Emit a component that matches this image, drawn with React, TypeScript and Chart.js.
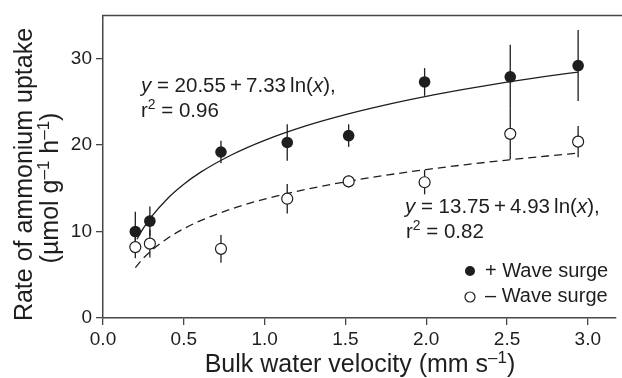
import React, { useEffect, useRef } from 'react';
import { Chart, registerables } from 'chart.js';

Chart.register(...registerables);

// ---- data ----
const velocity = [0.2, 0.29, 0.73, 1.14, 1.52, 1.99, 2.52, 2.94];
const uptakeWithSurge = [10.0, 11.2, 19.2, 20.3, 21.1, 27.3, 27.9, 29.2];
const errWithSurge = [2.3, 1.7, 1.3, 2.1, 1.3, 1.6, 3.7, 4.1];
const uptakeWithoutSurge = [8.2, 8.6, 8.0, 13.8, 15.8, 15.7, 21.3, 20.4];
const errWithoutSurge = [1.3, 1.6, 1.6, 1.7, 0.7, 1.4, 2.9, 1.8];

// fitted curves as drawn in the reference
const fitWithX = [0.21, 0.25, 0.3, 0.4, 0.5, 0.6, 0.8, 1.0, 1.25, 1.5, 1.75, 2.0, 2.25, 2.5, 2.75, 2.94];
const fitWithY = [9.11, 10.39, 11.72, 13.83, 15.47, 16.81, 18.91, 20.55, 22.19, 23.52, 24.65, 25.63, 26.49, 27.27, 27.97, 28.45];
const fitWithoutX = [0.2, 0.25, 0.3, 0.4, 0.5, 0.6, 0.8, 1.0, 1.25, 1.5, 1.75, 2.0, 2.25, 2.5, 2.75, 2.94];
const fitWithoutY = [5.82, 6.92, 7.81, 9.23, 10.33, 11.23, 12.65, 13.75, 14.85, 15.75, 16.51, 17.17, 17.75, 18.27, 18.74, 19.07];

const xTicks = [0, 0.5, 1.0, 1.5, 2.0, 2.5, 3.0];
const yTicks = [0, 10, 20, 30];

const legendLabels = ['+ Wave surge', '\u2013 Wave surge'];
const eqWithSurge = ['y', ' = 20.55\u2009+\u20097.33\u2009ln(', 'x', '),'];
const r2WithSurge = ['r', '2', ' = 0.96'];
const eqWithoutSurge = ['y', ' = 13.75\u2009+\u20094.93\u2009ln(', 'x', '),'];
const r2WithoutSurge = ['r', '2', ' = 0.82'];
const xTitle = ['Bulk water velocity (mm s', '\u20131', ')'];
const yTitle1 = 'Rate of ammonium uptake';
const yTitle2 = ['(\u00b5mol g', '\u20131', ' h', '\u20131', ')'];

const INK = '#1e1e1e';
const AXIS = '#474747';
const FONT = "'Liberation Sans', Arial, Helvetica, sans-serif";

type Run = { t: string; it?: boolean; sup?: boolean };

function runsWidth(ctx: CanvasRenderingContext2D, runs: Run[], size: number) {
  let w = 0;
  for (const r of runs) {
    const s = r.sup ? size * 0.68 : size;
    ctx.font = `${r.it ? 'italic ' : ''}${s}px ${FONT}`;
    w += ctx.measureText(r.t).width;
  }
  return w;
}

function drawRuns(ctx: CanvasRenderingContext2D, runs: Run[], x: number, y: number, size: number) {
  let cx = x;
  ctx.textAlign = 'left';
  ctx.textBaseline = 'alphabetic';
  for (const r of runs) {
    const s = r.sup ? size * 0.68 : size;
    ctx.font = `${r.it ? 'italic ' : ''}${s}px ${FONT}`;
    ctx.fillText(r.t, cx, r.sup ? y - size * 0.38 : y);
    cx += ctx.measureText(r.t).width;
  }
}

const eqRuns = (a: string[]): Run[] => [
  { t: a[0], it: true },
  { t: a[1] },
  { t: a[2], it: true },
  { t: a[3] },
];
const r2Runs = (a: string[]): Run[] => [{ t: a[0] }, { t: a[1], sup: true }, { t: a[2] }];

const decor = {
  id: 'decor',
  beforeDatasetsDraw(chart: any) {
    const { ctx, scales } = chart;
    const x = scales.x;
    const y = scales.y;
    ctx.save();
    ctx.strokeStyle = INK;
    ctx.lineWidth = 1.3;
    const bars = (vals: number[], errs: number[]) => {
      velocity.forEach((v, i) => {
        const px = x.getPixelForValue(v);
        ctx.beginPath();
        ctx.moveTo(px, y.getPixelForValue(vals[i] - errs[i]));
        ctx.lineTo(px, y.getPixelForValue(vals[i] + errs[i]));
        ctx.stroke();
      });
    };
    bars(uptakeWithSurge, errWithSurge);
    bars(uptakeWithoutSurge, errWithoutSurge);
    ctx.restore();
  },
  afterDraw(chart: any) {
    const { ctx, chartArea } = chart;
    ctx.save();
    // top frame line
    ctx.strokeStyle = AXIS;
    ctx.lineWidth = 1.5;
    ctx.beginPath();
    ctx.moveTo(chartArea.left - 0.75, chartArea.top);
    ctx.lineTo(chart.width, chartArea.top);
    ctx.stroke();

    ctx.fillStyle = INK;
    // equations
    drawRuns(ctx, eqRuns(eqWithSurge), 141, 92, 20.5);
    drawRuns(ctx, r2Runs(r2WithSurge), 141, 117, 20.5);
    drawRuns(ctx, eqRuns(eqWithoutSurge), 405, 213, 20.5);
    drawRuns(ctx, r2Runs(r2WithoutSurge), 406, 238, 20.5);

    // legend
    ctx.lineWidth = 1.2;
    ctx.beginPath();
    ctx.arc(470, 271, 5, 0, Math.PI * 2);
    ctx.fillStyle = INK;
    ctx.fill();
    ctx.beginPath();
    ctx.arc(470, 297, 5, 0, Math.PI * 2);
    ctx.fillStyle = '#fff';
    ctx.fill();
    ctx.strokeStyle = INK;
    ctx.stroke();
    ctx.fillStyle = INK;
    drawRuns(ctx, [{ t: legendLabels[0] }], 485, 277, 20);
    drawRuns(ctx, [{ t: legendLabels[1] }], 485, 302, 20);

    // x title
    const xr: Run[] = [{ t: xTitle[0] }, { t: xTitle[1], sup: true }, { t: xTitle[2] }];
    const xw = runsWidth(ctx, xr, 25);
    drawRuns(ctx, xr, 360 - xw / 2, 372, 25);

    // y title
    const y1: Run[] = [{ t: yTitle1 }];
    const y2: Run[] = [
      { t: yTitle2[0] },
      { t: yTitle2[1], sup: true },
      { t: yTitle2[2] },
      { t: yTitle2[3], sup: true },
      { t: yTitle2[4] },
    ];
    ctx.save();
    ctx.translate(32, 174.5);
    ctx.rotate(-Math.PI / 2);
    const w1 = runsWidth(ctx, y1, 25);
    drawRuns(ctx, y1, -w1 / 2, 0, 25);
    ctx.restore();
    ctx.save();
    ctx.translate(58, 188);
    ctx.rotate(-Math.PI / 2);
    const w2 = runsWidth(ctx, y2, 25);
    drawRuns(ctx, y2, -w2 / 2, 0, 25);
    ctx.restore();

    ctx.restore();
  },
};

export default function App() {
  const ref = useRef<HTMLCanvasElement | null>(null);
  useEffect(() => {
    if (!ref.current) return;
    const chart = new Chart(ref.current, {
      type: 'scatter',
      data: {
        datasets: [
          {
            label: legendLabels[1],
            data: velocity.map((v, i) => ({ x: v, y: uptakeWithoutSurge[i] })),
            pointRadius: 5.5,
            pointBackgroundColor: '#ffffff',
            pointBorderColor: INK,
            pointBorderWidth: 1.2,
          },
          {
            label: legendLabels[0],
            data: velocity.map((v, i) => ({ x: v, y: uptakeWithSurge[i] })),
            pointRadius: 5.8,
            pointBackgroundColor: INK,
            pointBorderColor: INK,
            pointBorderWidth: 0,
          },
          {
            type: 'line',
            label: 'fit +',
            data: fitWithX.map((v, i) => ({ x: v, y: fitWithY[i] })),
            borderColor: INK,
            borderWidth: 1.3,
            pointRadius: 0,
            cubicInterpolationMode: 'monotone',
            fill: false,
          },
          {
            type: 'line',
            label: 'fit -',
            data: fitWithoutX.map((v, i) => ({ x: v, y: fitWithoutY[i] })),
            borderColor: INK,
            borderWidth: 1.3,
            borderDash: [8, 5],
            pointRadius: 0,
            cubicInterpolationMode: 'monotone',
            fill: false,
          },
        ] as any,
      },
      options: {
        animation: false,
        responsive: false,
        devicePixelRatio: 1,
        layout: { padding: { top: 12, right: 0, bottom: 0, left: 0 } },
        plugins: { legend: { display: false }, tooltip: { enabled: false } },
        scales: {
          x: {
            type: 'linear',
            min: 0,
            max: 3.17,
            afterBuildTicks: (s: any) => {
              s.ticks = xTicks.map((v) => ({ value: v }));
            },
            afterFit: (s: any) => {
              s.height = 60;
            },
            ticks: {
              callback: (v: any) => Number(v).toFixed(1),
              font: { family: FONT, size: 19 },
              color: INK,
              padding: 3,
              maxRotation: 0,
            },
            grid: { drawOnChartArea: false, drawTicks: true, tickLength: 7, color: AXIS, lineWidth: 1.3 },
            border: { display: true, color: AXIS, width: 1.5 },
          },
          y: {
            type: 'linear',
            min: 0,
            max: 35,
            afterBuildTicks: (s: any) => {
              s.ticks = yTicks.map((v) => ({ value: v }));
            },
            afterFit: (s: any) => {
              s.width = 103;
            },
            ticks: {
              font: { family: FONT, size: 19 },
              color: INK,
              padding: 4,
            },
            grid: { drawOnChartArea: false, drawTicks: true, tickLength: 7, color: AXIS, lineWidth: 1.3 },
            border: { display: true, color: AXIS, width: 1.5 },
          },
        },
      } as any,
      plugins: [decor],
    });
    return () => chart.destroy();
  }, []);
  return (
    <div style={{ position: 'fixed', left: 0, top: 0, width: 622, height: 378, background: '#fff' }}>
      <canvas ref={ref} width={622} height={378} style={{ display: 'block' }} />
    </div>
  );
}
